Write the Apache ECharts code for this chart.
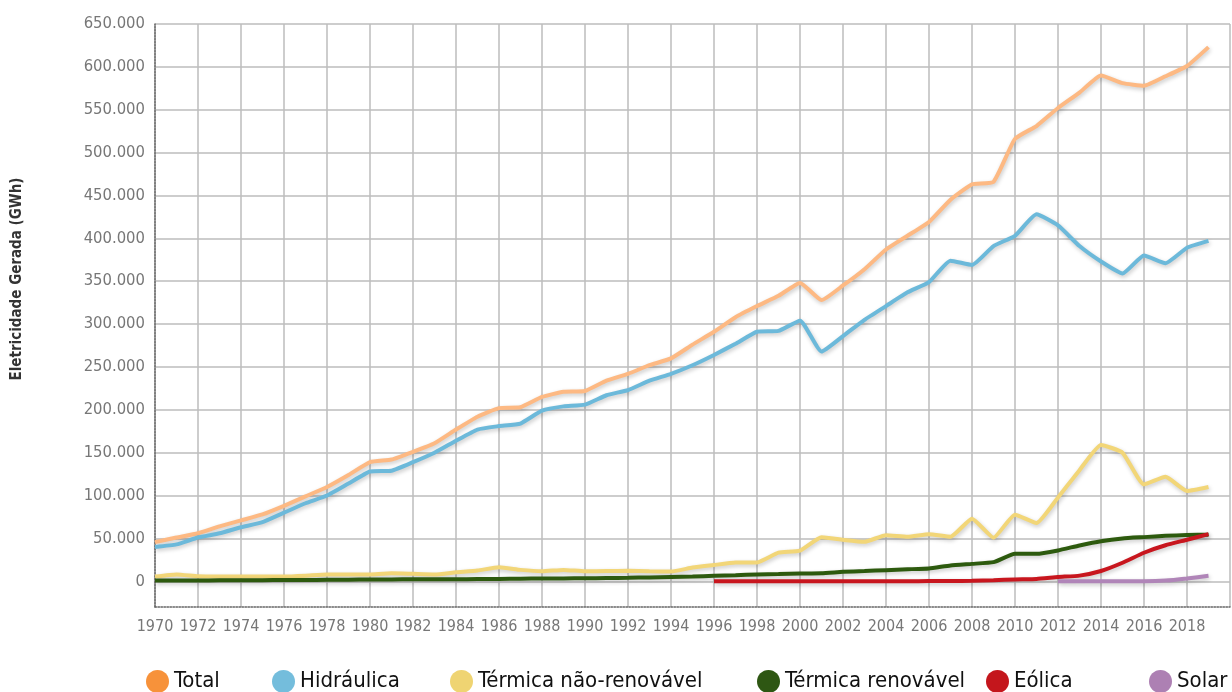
<!DOCTYPE html>
<html>
<head>
<meta charset="utf-8">
<script src="https://cdn.jsdelivr.net/npm/echarts@6/dist/echarts.min.js"></script>
<style>
  html, body { margin: 0; padding: 0; background: #fff; }
  #chart { width: 1232px; height: 692px; }
</style>
</head>
<body>
<div id="chart"></div>
<script>
// anos 1970 - 2019
var years = [];
for (var y = 1970; y <= 2019; y++) years.push(y);

var total = [45700, 51000, 56000, 64000, 71000, 78000, 88000, 99000, 110000, 124000,
  139000, 142000, 151000, 161000, 177000, 192000, 202000, 203000, 215000, 221000,
  222000, 234000, 242000, 252000, 260000, 276000, 291000, 308000, 321000, 333000,
  348000, 328000, 345000, 364000, 387000, 403000, 419000, 445000, 463000, 466000,
  516000, 531000, 552000, 570000, 590000, 581000, 578000, 589000, 601000, 623000];

var hidraulica = [40000, 43000, 51000, 56000, 63000, 69000, 80000, 91000, 100000, 114000,
  128000, 129000, 139000, 150000, 164000, 177000, 181000, 184000, 199000, 204000,
  206000, 217000, 223000, 234000, 242000, 252000, 264000, 277000, 291000, 292000,
  304000, 268000, 286000, 305000, 321000, 337000, 349000, 374000, 369000, 391000,
  403000, 428000, 415000, 391000, 373000, 359000, 380000, 371000, 389000, 397000];

var termicaNaoRenov = [5500, 8000, 5800, 5500, 5500, 5500, 5500, 6500, 8000, 7800,
  8000, 9400, 8700, 8000, 10500, 12500, 16400, 13300, 11700, 13300,
  11700, 12000, 12200, 11700, 11300, 16000, 19000, 21800, 22000, 33400,
  35800, 51500, 48400, 46000, 53800, 51900, 55000, 52000, 73000, 50800,
  77700, 68000, 97700, 129600, 159000, 150000, 113000, 121800, 105400, 110000];

var termicaRenov = [800, 900, 1000, 1100, 1200, 1300, 1400, 1500, 1700, 1900,
  2000, 2100, 2400, 2400, 2400, 2600, 2800, 3000, 3200, 3300,
  3500, 3800, 4100, 4500, 5000, 5500, 6500, 7000, 8000, 8500,
  9000, 9400, 11000, 12000, 13000, 14000, 15000, 18500, 20300, 22300,
  32000, 32000, 36000, 41800, 46800, 50000, 51500, 53000, 54000, 54300];

var eolica = [null, null, null, null, null, null, null, null, null, null,
  null, null, null, null, null, null, null, null, null, null,
  null, null, null, null, null, null, 0, 0, 0, 0,
  0, 0, 100, 100, 100, 100, 200, 300, 600, 1200,
  2200, 2700, 5000, 6600, 12000, 21600, 33300, 42000, 48400, 55000];

var solar = [null, null, null, null, null, null, null, null, null, null,
  null, null, null, null, null, null, null, null, null, null,
  null, null, null, null, null, null, null, null, null, null,
  null, null, null, null, null, null, null, null, null, null,
  null, null, 0, 0, 0, 100, 100, 800, 3300, 6400];

var yTicks = [0, 50000, 100000, 150000, 200000, 250000, 300000, 350000, 400000,
  450000, 500000, 550000, 600000, 650000];

var seriesNames = ['Total', 'Hidráulica', 'Térmica não-renovável', 'Térmica renovável', 'Eólica', 'Solar'];
var lineColors = ['#FDB983', '#6CB9DA', '#F2D678', '#2D5A0E', '#C8161E', '#B085B8'];
var iconColors = ['#F7923A', '#74BDDC', '#EFD472', '#2E5713', '#C4161C', '#AD80B3'];
var legendLeft = [146, 272, 450, 757, 986, 1149];
var seriesData = [total, hidraulica, termicaNaoRenov, termicaRenov, eolica, solar];

var narrow = "'Liberation Sans Narrow', 'DejaVu Sans Condensed', 'Roboto', sans-serif";

function pairs(vals) {
  return years.map(function (yr, i) { return [yr, vals[i]]; });
}

var chart = echarts.init(document.getElementById('chart'), null, { renderer: 'canvas' });

var option = {
  backgroundColor: '#ffffff',
  animation: false,
  grid: { left: 155, right: 2, top: 24, bottom: 85, containLabel: false },
  graphic: [{
    type: 'text',
    rotation: Math.PI / 2,
    x: 17,
    y: 279,
    style: {
      text: 'Eletricidade Gerada (GWh)',
      fontFamily: narrow,
      fontSize: 15,
      fontWeight: 'bold',
      fill: '#333',
      align: 'center',
      verticalAlign: 'middle'
    }
  }],
  legend: seriesNames.map(function (n, i) {
    return {
      data: [n],
      left: legendLeft[i],
      top: 670,
      icon: 'circle',
      itemWidth: 23,
      itemHeight: 23,
      padding: 0,
      textStyle: { fontFamily: narrow, fontSize: 22, color: '#111' }
    };
  }),
  xAxis: {
    type: 'value',
    min: 1970,
    max: 2020,
    interval: 2,
    axisLine: { show: true, onZero: false, lineStyle: { color: '#666', type: 'dotted', width: 1.5 } },
    axisTick: { show: false },
    axisLabel: {
      showMaxLabel: false,
      color: '#777',
      fontFamily: narrow,
      fontSize: 16,
      margin: 12,
      formatter: function (v) { return String(v); }
    },
    splitLine: { show: true, lineStyle: { color: '#bdbdbd', width: 1.5 } }
  },
  yAxis: {
    type: 'value',
    min: -30000,
    max: 650000,
    axisLine: { show: true, lineStyle: { color: '#666', type: 'dotted', width: 1.5 } },
    axisTick: { show: false, customValues: yTicks },
    axisLabel: {
      customValues: yTicks,
      color: '#777',
      fontFamily: narrow,
      fontSize: 16.5,
      margin: 10,
      formatter: function (v) {
        return v === 0 ? '0' : (v / 1000) + '.000';
      }
    },
    splitLine: { show: true, lineStyle: { color: '#bdbdbd', width: 1.5 } }
  },
  series: seriesNames.map(function (n, i) {
    return {
      name: n,
      type: 'line',
      data: pairs(seriesData[i]),
      showSymbol: false,
      smooth: 0.15,
      connectNulls: false,
      itemStyle: { color: iconColors[i] },
      lineStyle: {
        color: lineColors[i],
        width: 4,
        shadowColor: 'rgba(0,0,0,0.22)',
        shadowBlur: 4,
        shadowOffsetX: 1,
        shadowOffsetY: 2
      },
      z: 2 + i
    };
  })
};

chart.setOption(option);
</script>
</body>
</html>
